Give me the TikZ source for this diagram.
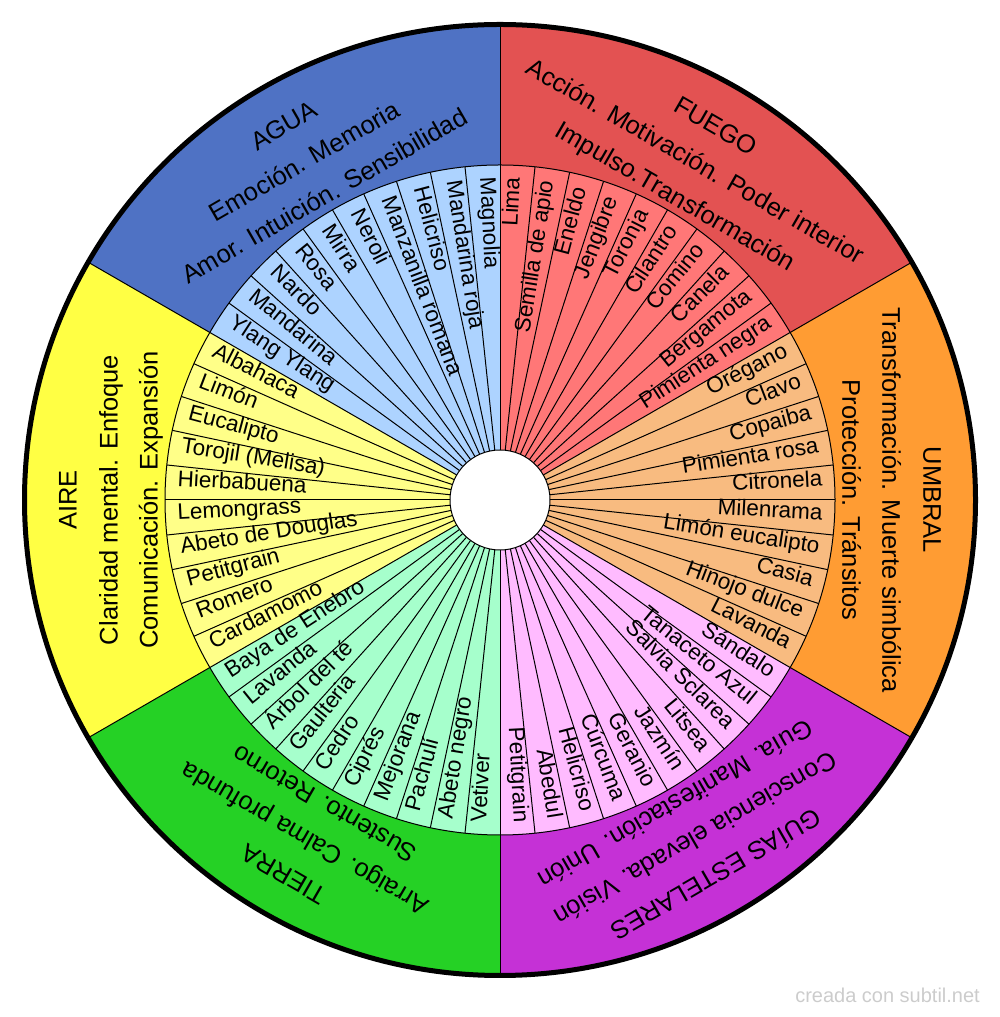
\documentclass[tikz,border=0pt]{standalone}
\usepackage{fontspec}
\setmainfont{Liberation Sans}
\definecolor{aguaO}{HTML}{4F72C4}
\definecolor{aguaI}{HTML}{ADD3FF}
\definecolor{fuegoO}{HTML}{E35252}
\definecolor{fuegoI}{HTML}{FF7777}
\definecolor{umbralO}{HTML}{FF9C33}
\definecolor{umbralI}{HTML}{F8BB80}
\definecolor{guiasO}{HTML}{C531D6}
\definecolor{guiasI}{HTML}{FFBBFF}
\definecolor{tierraO}{HTML}{25D125}
\definecolor{tierraI}{HTML}{A6FFCC}
\definecolor{aireO}{HTML}{FFFF44}
\definecolor{aireI}{HTML}{FFFF88}
\begin{document}
\begin{tikzpicture}[x=1pt,y=1pt,
  thinline/.style={draw=black,line width=1pt},
  inlab/.style={font=\fontsize{22.5}{27}\selectfont, inner sep=0pt, text height=0.6em, text depth=0pt},
  outlab/.style={font=\fontsize{25.5}{30}\selectfont, inner sep=0pt, text height=0.716em, text depth=0pt},
  wmark/.style={font=\fontsize{20}{24}\selectfont, text=black!20, inner sep=0pt}]
\useasboundingbox (0,0) rectangle (1000,1017);
\begin{scope}[shift={(500,517)}]
\coordinate (O) at (0,0);
% sectors
\foreach \a/\oc/\ic in {30/fuegoO/fuegoI, -30/umbralO/umbralI, -90/guiasO/guiasI, -150/tierraO/tierraI, 150/aireO/aireI, 90/aguaO/aguaI}{
  \fill[\oc] (O) -- (\a:477) arc[start angle=\a, end angle=\a+60, radius=477] -- cycle;
  \fill[\ic] (O) -- (\a:335) arc[start angle=\a, end angle=\a+60, radius=335] -- cycle;
}
% wedge lines
\foreach \a in {0,6,...,354}{
  \draw[thinline] (\a:50) -- (\a:335);
}
\draw[thinline] (O) circle[radius=335];
\foreach \a in {30,90,...,330}{
  \draw[thinline] (\a:335) -- (\a:477);
}
\filldraw[fill=white, thinline] (O) circle[radius=50];
\draw[line width=5pt] (O) circle[radius=475.5];
% inner labels, right half
\foreach \a/\t [count=\i] in {87/Lima, 81/Semilla de apio, 75/Eneldo, 69/Jengibre, 63/Toronja, 57/Cilantro, 51/Comino, 45/Canela, 39/Bergamota, 33/Pimienta negra,
  27/Orégano, 21/Clavo, 15/Copaiba, 9/Pimienta rosa, 3/Citronela, -3/Milenrama, -9/Limón eucalipto, -15/Casia, -21/Hinojo dulce, -27/Lavanda,
  -33/Sándalo, -39/Tanaceto Azul, -45/Salvia Sclarea, -51/Litsea, -57/Jazmín, -63/Geranio, -69/Cúrcuma, -75/Helicriso, -81/Abedul, -87/Petitgrain}{
  \node[inlab, rotate=\a, anchor=east] (r\i) at (\a:323) {\t};
}
% inner labels, left half
\foreach \a/\t [count=\i] in {93/Magnolia, 99/Mandarina roja, 105/Helicriso, 111/Manzanilla romana, 117/Neroli, 123/Mirra, 129/Rosa, 135/Nardo, 141/Mandarina, 147/Ylang Ylang,
  153/Albahaca, 159/Limón, 165/Eucalipto, 171/Torojil (Melisa), 177/Hierbabuena, 183/Lemongrass, 189/Abeto de Douglas, 195/Petitgrain, 201/Romero, 207/Cardamomo,
  213/Baya de Enebro, 219/Lavanda, 225/Árbol del té, 231/Gaulteria, 237/Cedro, 243/Ciprés, 249/Mejorana, 255/Pachulí, 261/Abeto negro, 267/Vetiver}{
  \node[inlab, rotate=\a+180, anchor=west] (l\i) at (\a:323) {\t};
}
% outer labels
\foreach \a/\x/\y/\z [count=\i] in {120/AGUA/Emoción. Memoria/Amor. Intuición. Sensibilidad,
  60/FUEGO/Acción. Motivación. Poder interior/Impulso.Transformación,
  0/UMBRAL/Transformación. Muerte simbólica/Protección. Tránsitos,
  -60/GUÍAS ESTELARES/Consciencia elevada. Visión/Guía. Manifestación. Unión,
  -120/TIERRA/Arraigo. Calma profunda/Sustento. Retorno,
  180/AIRE/Claridad mental. Enfoque/Comunicación. Expansión}{
  \node[outlab, rotate=\a-90] (oa\i) at (\a:427) {\x};
  \node[outlab, rotate=\a-90] (ob\i) at (\a:386) {\y};
  \node[outlab, rotate=\a-90] (oc\i) at (\a:346) {\z};
}
\end{scope}
\node[wmark, anchor=base east] (wm) at (980,14) {creada con subtil.net};
\end{tikzpicture}
\end{document}
